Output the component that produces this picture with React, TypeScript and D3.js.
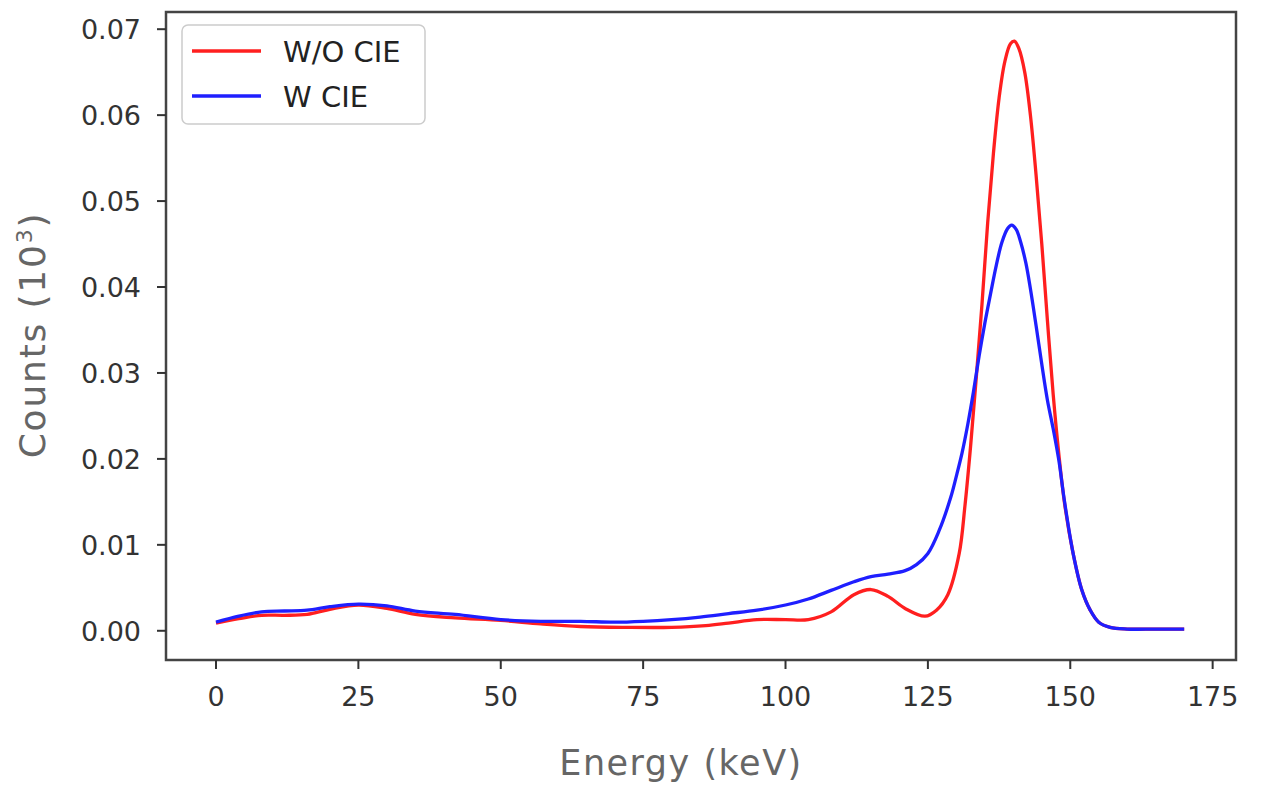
import React from "react";
import * as d3 from "d3";

const energyWo = [0, 4, 8, 12, 16, 20, 25, 30, 35, 42, 50, 57, 64, 72, 80, 86, 90, 95, 100, 104, 108, 112, 115, 118, 121, 124.5, 126.5, 128.5, 130.5, 131.5, 132.5, 133.5, 134.5, 135.5, 136.5, 137.5, 138.5, 139.5, 140.2, 141, 142, 143, 144, 145, 146, 147, 148, 149, 150.5, 152, 153.5, 155, 157, 160, 165, 170];
const countsWo = [0.0009, 0.0014, 0.0018, 0.0018, 0.0019, 0.0025, 0.003, 0.0026, 0.0019, 0.0015, 0.0012, 0.0008, 0.0005, 0.0004, 0.0004, 0.0006, 0.0009, 0.0013, 0.0013, 0.0013, 0.0022, 0.0042, 0.0048, 0.004, 0.0026, 0.0017, 0.0024, 0.0042, 0.009, 0.0145, 0.0215, 0.0295, 0.038, 0.0475, 0.0555, 0.062, 0.0662, 0.0683, 0.0686, 0.0677, 0.065, 0.06, 0.053, 0.045, 0.036, 0.0275, 0.0205, 0.0148, 0.009, 0.0048, 0.0024, 0.001, 0.0004, 0.0002, 0.0002, 0.0002];

const energyW = [0, 4, 8, 12, 16, 20, 25, 30, 35, 42, 50, 57, 64, 70, 75, 80, 85, 90, 95, 100, 104, 108, 112, 115, 118, 121, 123, 125, 127, 129, 130, 131, 132, 133, 134, 135, 136, 137, 138, 139, 139.7, 140.5, 141.3, 142.2, 143, 144, 145, 146, 147, 148, 149, 150.5, 152, 153.5, 155, 157, 160, 165, 170];
const countsW = [0.001, 0.0017, 0.0022, 0.0023, 0.0024, 0.0028, 0.0031, 0.0029, 0.0023, 0.0019, 0.0013, 0.0011, 0.0011, 0.001, 0.0011, 0.0013, 0.0016, 0.002, 0.0024, 0.003, 0.0037, 0.0047, 0.0057, 0.0063, 0.0066, 0.007, 0.0077, 0.009, 0.0117, 0.0155, 0.018, 0.0207, 0.024, 0.0278, 0.032, 0.0358, 0.0392, 0.0425, 0.0452, 0.0468, 0.0472, 0.0467, 0.0452, 0.0428, 0.0398, 0.0355, 0.031, 0.0268, 0.0235, 0.0198, 0.015, 0.009, 0.0048, 0.0024, 0.001, 0.0004, 0.0002, 0.0002, 0.0002];

const xTicks = [0, 25, 50, 75, 100, 125, 150, 175];
const yTicks = [0, 0.01, 0.02, 0.03, 0.04, 0.05, 0.06, 0.07];
const seriesNames = ["W/O CIE", "W CIE"];
const seriesColors = ["#ff1f1f", "#1f1fff"];

export default function App() {
  const W = 1261, H = 785;
  const left = 166, right = 1236, top = 12, bottom = 660;
  const x = d3.scaleLinear().domain([-8.78, 179.1]).range([left, right]);
  const y = d3.scaleLinear().domain([-0.0034, 0.072]).range([bottom, top]);

  const mk = (xs: number[], ys: number[]) =>
    d3
      .line<number>()
      .x((_, i) => x(xs[i]))
      .y((d) => y(d))
      .curve(d3.curveCatmullRom.alpha(0.5))(ys) || "";

  const paths = [mk(energyWo, countsWo), mk(energyW, countsW)];
  const tickColor = "#333";
  const font = "'DejaVu Sans', Verdana, sans-serif";

  return (
    <svg width={W} height={H} style={{ position: "absolute", left: 0, top: 0, background: "#fff" }}>
      <rect x={0} y={0} width={W} height={H} fill="#fff" />
      {paths.map((p, i) => (
        <path key={i} d={p} fill="none" stroke={seriesColors[i]} strokeWidth={3.3} strokeLinejoin="round" />
      ))}
      <rect x={left} y={top} width={right - left} height={bottom - top} fill="none" stroke="#444" strokeWidth={2.5} />
      {xTicks.map((t) => (
        <g key={"x" + t}>
          <line x1={x(t)} x2={x(t)} y1={bottom} y2={bottom + 9} stroke={tickColor} strokeWidth={2} />
          <text x={x(t)} y={706} textAnchor="middle" fontFamily={font} fontSize={27} fill={tickColor}>
            {t}
          </text>
        </g>
      ))}
      {yTicks.map((t) => (
        <g key={"y" + t}>
          <line x1={left - 9} x2={left} y1={y(t)} y2={y(t)} stroke={tickColor} strokeWidth={2} />
          <text x={141} y={y(t) + 10} textAnchor="end" fontFamily={font} fontSize={27} fill={tickColor}>
            {t.toFixed(2)}
          </text>
        </g>
      ))}
      <text x={681} y={775} textAnchor="middle" fontFamily={font} fontSize={35} letterSpacing={1.5} fill="#666">
        Energy (keV)
      </text>
      <text
        transform={`translate(45,335) rotate(-90)`}
        textAnchor="middle"
        fontFamily={font}
        fontSize={36}
        letterSpacing={1.8}
        fill="#666"
      >
        Counts (10<tspan dy={-13} fontSize={22}>3</tspan>
        <tspan dy={13}>)</tspan>
      </text>
      <rect x={182} y={25} width={243} height={99} rx={6} fill="#fff" fillOpacity={0.8} stroke="#ccc" strokeWidth={1.5} />
      {seriesNames.map((n, i) => (
        <g key={n}>
          <line x1={192} x2={261} y1={51 + i * 45} y2={51 + i * 45} stroke={seriesColors[i]} strokeWidth={3.3} />
          <text x={283} y={62 + i * 45} fontFamily={font} fontSize={29} fill="#222">
            {n}
          </text>
        </g>
      ))}
    </svg>
  );
}
